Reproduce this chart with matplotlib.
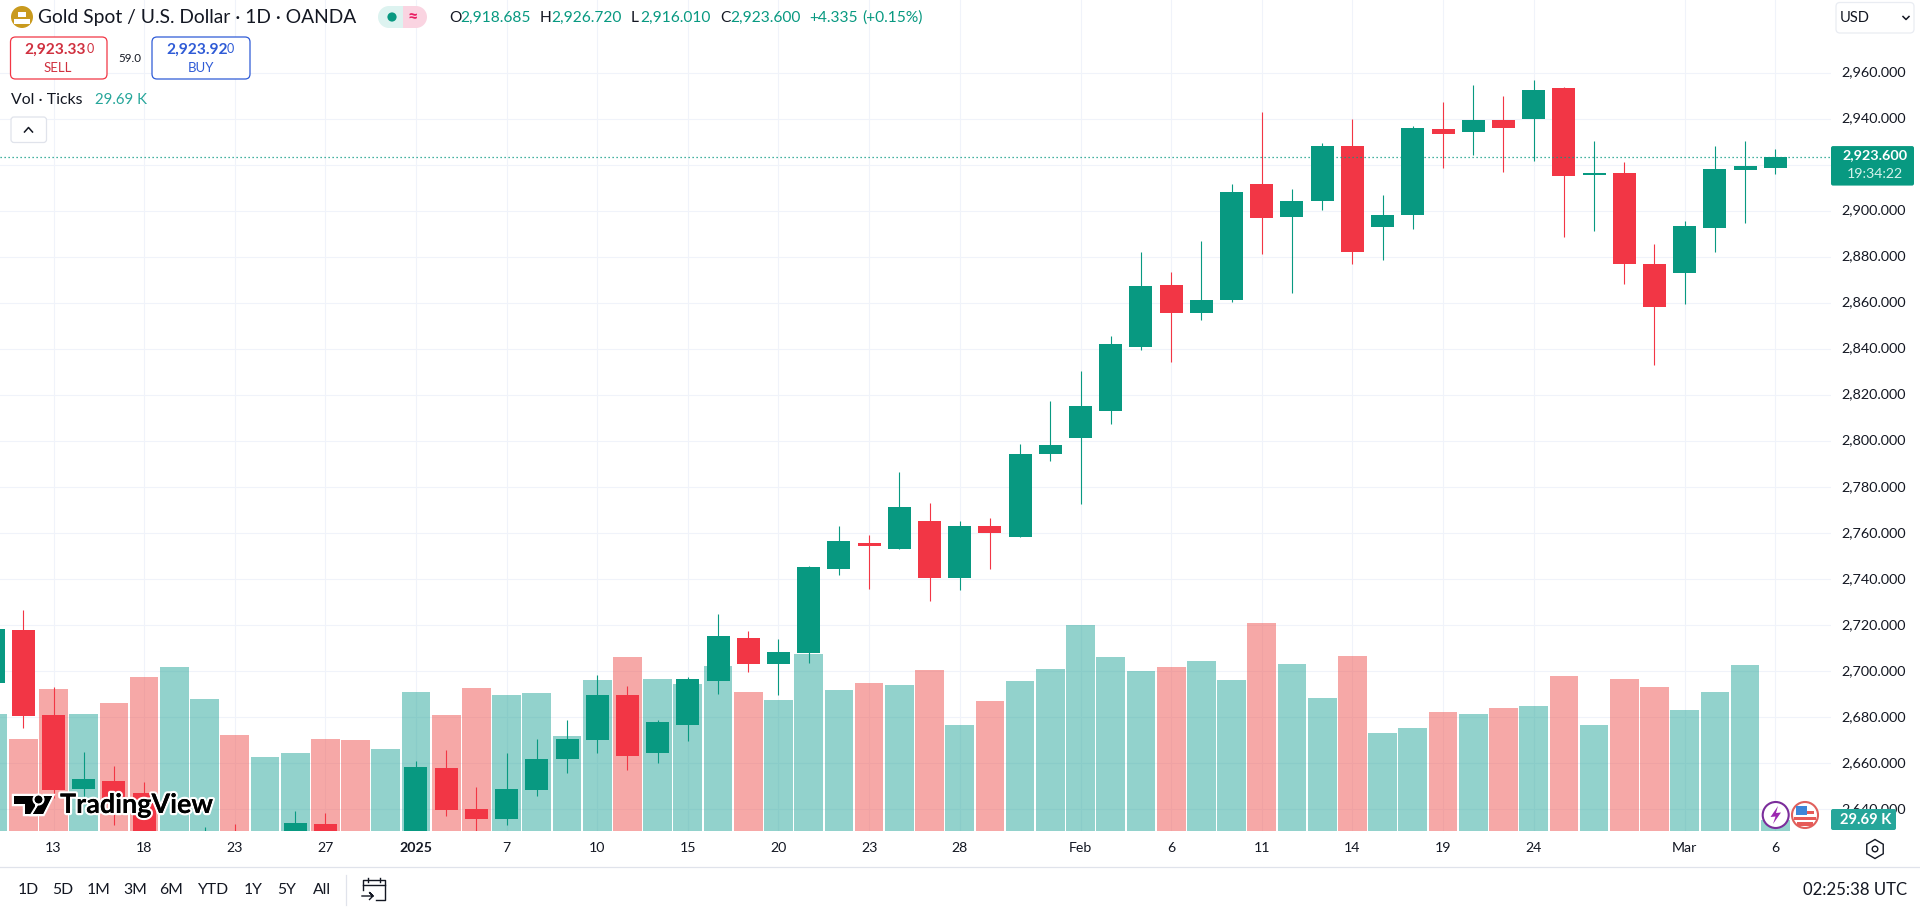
import matplotlib
matplotlib.use("Agg")
import matplotlib.pyplot as plt
import matplotlib.patheffects as pe
from matplotlib.patches import Circle, FancyBboxPatch, Polygon, Rectangle, RegularPolygon, Wedge
from matplotlib.transforms import ScaledTranslation

plt.rcParams['font.family'] = ['Lato', 'DejaVu Sans']

# ---- data ----
bar_index = list(range(-2, 58))
opens = [2694.9, 2718.0, 2681.0, 2648.8, 2652.3, 2647.1, 2612, 2610, 2625, 2612, 2622, 2633.6,
         2625, 2618, 2628, 2658.0, 2640.1, 2635.8, 2648.4, 2661.9, 2670.1, 2689.7, 2664.3, 2676.7,
         2695.8, 2714.5, 2703.2, 2707.8, 2744.2, 2755.9, 2753.3, 2765.1, 2740.3, 2763.3, 2758.1, 2794.2,
         2801.2, 2812.9, 2840.8, 2868.0, 2855.8, 2861.4, 2911.9, 2897.5, 2904.5, 2928.4, 2893.2, 2898.4,
         2935.4, 2934.1, 2939.7, 2940.0, 2953.3, 2915.5, 2916.4, 2876.8, 2872.9, 2892.5, 2917.7, 2918.685]
highs = [2722, 2726.7, 2693.2, 2664.9, 2658.8, 2651.9, 2628, 2632.2, 2633.6, 2628, 2639.3, 2638.3,
         2629, 2629, 2661.0, 2665.8, 2649.7, 2664.5, 2670.6, 2678.8, 2698.4, 2693.6, 2678.8, 2697.5,
         2724.9, 2717.5, 2714.1, 2745.8, 2763.3, 2759.0, 2786.4, 2772.9, 2765.1, 2766.4, 2798.6, 2817.2,
         2830.6, 2845.5, 2882.3, 2873.6, 2887.1, 2911.9, 2942.8, 2909.3, 2929.7, 2940.1, 2906.7, 2937.1,
         2947.1, 2954.7, 2950.1, 2956.8, 2953.8, 2930.3, 2921.2, 2885.5, 2895.5, 2928.1, 2930.3, 2926.72]
lows = [2690, 2675.5, 2645, 2645.5, 2633.2, 2620, 2608, 2605, 2608, 2606, 2618, 2620,
        2615, 2612, 2622, 2637.1, 2628, 2633.2, 2645.8, 2655.8, 2664.5, 2657.1, 2660.0, 2669.7,
        2690.1, 2699.7, 2689.7, 2703.5, 2742.0, 2735.9, 2753.3, 2730.7, 2735.1, 2744.6, 2758.1, 2791.2,
        2772.5, 2807.2, 2839.7, 2834.5, 2852.8, 2860.6, 2881.4, 2864.5, 2900.6, 2877.1, 2878.8, 2892.3,
        2918.8, 2924.1, 2917.1, 2921.6, 2888.6, 2891.2, 2868.1, 2832.9, 2859.4, 2882.0, 2894.6, 2916.01]
closes = [2718.4, 2680.6, 2648.4, 2653.2, 2645, 2625, 2622, 2622, 2612, 2620, 2634.1, 2624,
          2618, 2626, 2658.4, 2639.7, 2635.8, 2648.8, 2661.9, 2670.6, 2689.7, 2663.2, 2678.0, 2696.7,
          2715.4, 2703.2, 2708.4, 2745.1, 2756.4, 2754.5, 2771.2, 2740.3, 2763.3, 2759.9, 2794.2, 2798.1,
          2815.1, 2842.3, 2867.4, 2855.5, 2861.4, 2908.4, 2897.1, 2904.1, 2928.4, 2882.3, 2898.4, 2935.8,
          2933.2, 2939.7, 2935.8, 2952.5, 2915.1, 2916.4, 2876.8, 2858.1, 2893.3, 2918.1, 2919.4, 2923.6]
volumes_k = [324.7, 255.1, 394.3, 324.7, 355.3, 427.7, 455.5, 366.4, 266.3, 205.0, 216.2, 255.1,
             252.3, 227.3, 385.9, 321.9, 397.1, 377.6, 383.1, 263.5, 419.3, 483.3, 422.1, 408.2,
             458.3, 385.9, 363.7, 491.7, 391.5, 411.0, 405.4, 447.2, 294.1, 360.9, 416.5, 449.9,
             572.4, 483.3, 444.4, 455.5, 472.2, 419.3, 578.0, 463.9, 369.2, 486.1, 271.8, 285.7,
             330.3, 324.7, 341.4, 347.0, 430.5, 294.1, 422.1, 399.8, 335.8, 385.9, 461.1, 29.69]
volume_dirs = list("GR" + "RGRRGGRGGRRGGRRG" + "GGGRGGGRGGGRGRGRG" + "GGGGRGGRGGRGGRGRGRGRRGGGG")
tick_bars = [0, 3, 6, 9, 12, 15, 18, 21, 24, 27, 30, 34, 37, 40, 43, 46, 49, 54, 57]
tick_labels = ['13', '18', '23', '27', '2025', '7', '10', '15', '20', '23', '28', 'Feb', '6', '11', '14', '19', '24', 'Mar', '6']
price_ticks = list(range(2640, 2961, 20))
last_price = closes[-1]
last_volume = volumes_k[-1]

# ---- colours ----
UP, DOWN = '#089981', '#F23645'
VOL_UP, VOL_DOWN = '#26A69A', '#EF5350'
GRID = '#F0F3FA'
INK = '#131722'

W, H = 1920, 907
fig = plt.figure(figsize=(W / 100, H / 100), dpi=100, facecolor='white')
rect = [0, (H - 831) / H, 1831 / W, 831 / H]

xlim = ((0 - 53.5) / 30.207, (1831 - 53.5) / 30.207)
ylim = (2630.57, 2991.63)

ax_grid = fig.add_axes(rect, zorder=0)
ax_vol = fig.add_axes(rect, zorder=1)
ax = fig.add_axes(rect, zorder=2)
for a in (ax_grid, ax_vol, ax):
    a.set_xlim(*xlim)
    for s in a.spines.values():
        s.set_visible(False)
ax_grid.set_ylim(*ylim)
ax.set_ylim(*ylim)
ax_vol.set_ylim(0, 831 * 2.783)
ax_vol.patch.set_alpha(0)
ax.patch.set_alpha(0)

ax_grid.set_xticks(tick_bars)
ax_grid.set_yticks(price_ticks)
ax_grid.grid(True, color=GRID, linewidth=0.8)
ax_grid.tick_params(length=0, labelleft=False, labelbottom=False)
ax_vol.set_xticks([])
ax_vol.set_yticks([])

# volume
ax_vol.bar(bar_index, volumes_k, width=0.95,
           color=[VOL_UP if d == 'G' else VOL_DOWN for d in volume_dirs], alpha=0.5, linewidth=0)

# candles
colors = [UP if c >= o else DOWN for o, c in zip(opens, closes)]
ax.vlines(bar_index, lows, highs, colors=colors, linewidth=0.8, zorder=2)
ax.bar(bar_index, [abs(c - o) for o, c in zip(opens, closes)], bottom=[min(o, c) for o, c in zip(opens, closes)],
       width=0.762, color=colors, linewidth=0, zorder=3)
ax.axhline(last_price, color=UP, linewidth=0.9, linestyle=(0, (1, 2.2)), zorder=4)

ax.yaxis.tick_right()
ax.set_yticks(price_ticks)
ax.set_yticklabels([f'{p:,.3f}' for p in price_ticks], fontsize=10.4, color=INK)
ax.set_xticks(tick_bars)
ax.set_xticklabels(tick_labels, fontsize=10.2, color=INK)
for lab in ax.get_xticklabels():
    if lab.get_text() == '2025':
        lab.set_fontweight('bold')
ax.tick_params(axis='y', length=0, pad=7.2)
ax.tick_params(axis='x', length=0, pad=8)
up_shift = ScaledTranslation(0, 1.4 / 100, fig.dpi_scale_trans)
for lab in ax.get_yticklabels():
    lab.set_transform(lab.get_transform() + up_shift)

# ---- interface overlay in pixel coordinates ----
ov = fig.add_axes([0, 0, 1, 1], zorder=5)
ov.set_xlim(0, W)
ov.set_ylim(H, 0)
ov.axis('off')
ov.patch.set_alpha(0)


def txt(x, y, s, size=10, color=INK, ha='left', weight='normal', **kw):
    return ov.text(x, y, s, fontsize=size, color=color, ha=ha, va='center', fontweight=weight, **kw)


def box(x0, y0, x1, y1, edge, face='white', r=5, lw=0.9):
    ov.add_patch(FancyBboxPatch((x0 + r, y0 + r), x1 - x0 - 2 * r, y1 - y0 - 2 * r,
                                boxstyle=f'round,pad={r}', fc=face, ec=edge, lw=lw))


def yp(price):
    return 72.8 + (2960 - price) / 20 * 46.03


# header
ov.add_patch(Circle((22, 17), 11, fc='#C99A1E', ec='none'))
for bx, by in ((18, 12), (14, 19), (22, 19)):
    ov.add_patch(Rectangle((bx, by), 7.5, 5, fc='white', ec='none'))
txt(38, 18, 'Gold Spot / U.S. Dollar · 1D · OANDA', size=13.85)
ov.add_patch(Rectangle((388, 6), 15, 22, fc='#DDF3F0', ec='none'))
ov.add_patch(Wedge((389, 17), 11, 90, 270, fc='#DDF3F0', ec='none'))
ov.add_patch(Rectangle((403, 6), 14, 22, fc='#FAD4E1', ec='none'))
ov.add_patch(Wedge((416, 17), 11, -90, 90, fc='#FAD4E1', ec='none'))
ov.add_patch(Circle((392, 17), 4.6, fc=UP, ec='none'))
txt(413, 17, '≈', size=13, color='#E91E63', ha='center', weight='bold')

teal = '#089981'
for x, s in ((449, 'O'), (540, 'H'), (631, 'L'), (720, 'C')):
    txt(x, 18, s, size=11.2)
for x, s in ((460, '2,918.685'), (551, '2,926.720'), (640, '2,916.010'), (730, '2,923.600'),
             (809.5, '+4.335'), (862, '(+0.15%)')):
    txt(x, 18, s, size=11.2, color=teal)

# sell / buy
box(10.5, 37, 107, 79, '#F23645')
txt(24, 50, '2,923.33', size=11.2, color='#D0303F', weight='bold')
txt(87, 49, '0', size=9, color='#D0303F')
txt(58, 68, 'SELL', size=9.5, color='#D0303F', ha='center')
txt(130, 58, '59.0', size=8.3, ha='center')
box(152, 37, 250, 79, '#2F5BD6')
txt(166, 50, '2,923.92', size=11.2, color='#2F5BD6', weight='bold')
txt(227, 49, '0', size=9, color='#2F5BD6')
txt(201, 68, 'BUY', size=9.5, color='#2F5BD6', ha='center')

txt(11, 99.5, 'Vol · Ticks', size=11.4)
txt(95, 99.5, '29.69 K', size=10.8, color=VOL_UP)
box(11, 117, 46.5, 142.5, '#E0E3EB', r=3)
ov.plot([24.5, 28.5, 32.5], [132, 127.5, 132], color=INK, lw=1.1)

# currency
box(1836, 2.5, 1914, 33, '#E9ECF2', r=4)
txt(1840, 18, 'USD', size=10.6)
ov.plot([1903, 1906, 1909], [16.5, 19.5, 16.5], color=INK, lw=1.1)

# price tag
py = yp(last_price)
box(1831, py - 10.5, 1914, py + 29, UP, face=UP, r=2, lw=0)
txt(1875, py - 1, f'{last_price:,.3f}', size=10.4, color='white', ha='center', weight='bold')
txt(1875, py + 17.5, '19:34:22', size=10.2, color='#D5F2EC', ha='center')

# volume tag
box(1831, 809, 1896, 830, VOL_UP, face=VOL_UP, r=2, lw=0)
txt(1866, 820, f'{last_volume:.2f} K', size=10.6, color='white', ha='center', weight='bold')

# event icons
ov.add_patch(Circle((1775.7, 815), 13, fc='white', ec='#7B2D9B', lw=1.5))
ov.add_patch(Polygon([(1778, 806), (1770.5, 817), (1775.5, 816.5), (1773, 824), (1781, 812.5), (1776, 813)],
                     fc='#9C27B0', ec='none'))
ov.add_patch(Circle((1805, 815), 13, fc='white', ec='#E0605C', lw=1.5))
for sy, sh, x0, wd in ((811, 3, 1796, 18), (816.5, 3, 1794, 22), (822, 3.5, 1797, 16)):
    ov.add_patch(Rectangle((x0, sy), wd, sh, fc='#E65A57', ec='none'))
ov.add_patch(Rectangle((1796, 806), 11, 9, fc='#3D86D8', ec='none'))

# TradingView logo
stroke = [pe.withStroke(linewidth=3.2, foreground='white')]
for poly in ([(14, 796), (35, 796), (35, 814), (25, 814), (25, 804), (14, 804)],
             [(44, 796), (52, 796), (43, 814), (33, 814)]):
    p = Polygon(poly, fc='black', ec='none', zorder=6)
    p.set_path_effects(stroke + [pe.Normal()])
    ov.add_patch(p)
c = Circle((38.5, 799.5), 3.8, fc='black', ec='none', zorder=6)
c.set_path_effects(stroke + [pe.Normal()])
ov.add_patch(c)
t = txt(60, 805, 'TradingView', size=19.4, color='black', weight='bold', zorder=6)
t.set_path_effects(stroke + [pe.Normal()])

# bottom bar
ov.plot([0, W], [866.7, 866.7], color='#E0E3EB', lw=0.9)
for x, s in ((27.8, '1D'), (62.4, '5D'), (98.8, '1M'), (135, '3M'), (171.4, '6M'), (213, 'YTD'),
             (252.7, '1Y'), (286.5, '5Y'), (321.6, 'All')):
    txt(x, 890, s, size=11.3, ha='center')
ov.plot([345.5, 345.5], [875, 905], color='#E0E3EB', lw=0.9)
ov.plot([363, 363, 385, 385, 376], [890, 880, 880, 900, 900], color=INK, lw=1.0)
ov.plot([363, 385], [884.5, 884.5], color=INK, lw=1.0)
ov.plot([368, 368], [878, 882], color=INK, lw=1.0)
ov.plot([380, 380], [878, 882], color=INK, lw=1.0)
ov.plot([362, 373, 369.5, 373, 369.5], [896, 896, 892.5, 896, 899.5], color=INK, lw=1.0)
txt(1907, 890, '02:25:38 UTC', size=12.1, ha='right')
ov.add_patch(RegularPolygon((1875, 849), 6, radius=9.5, orientation=0, fc='none', ec=INK, lw=1.0))
ov.add_patch(Circle((1875, 849), 2.8, fc='none', ec=INK, lw=1.0))

fig.savefig('out.png', dpi=100)
